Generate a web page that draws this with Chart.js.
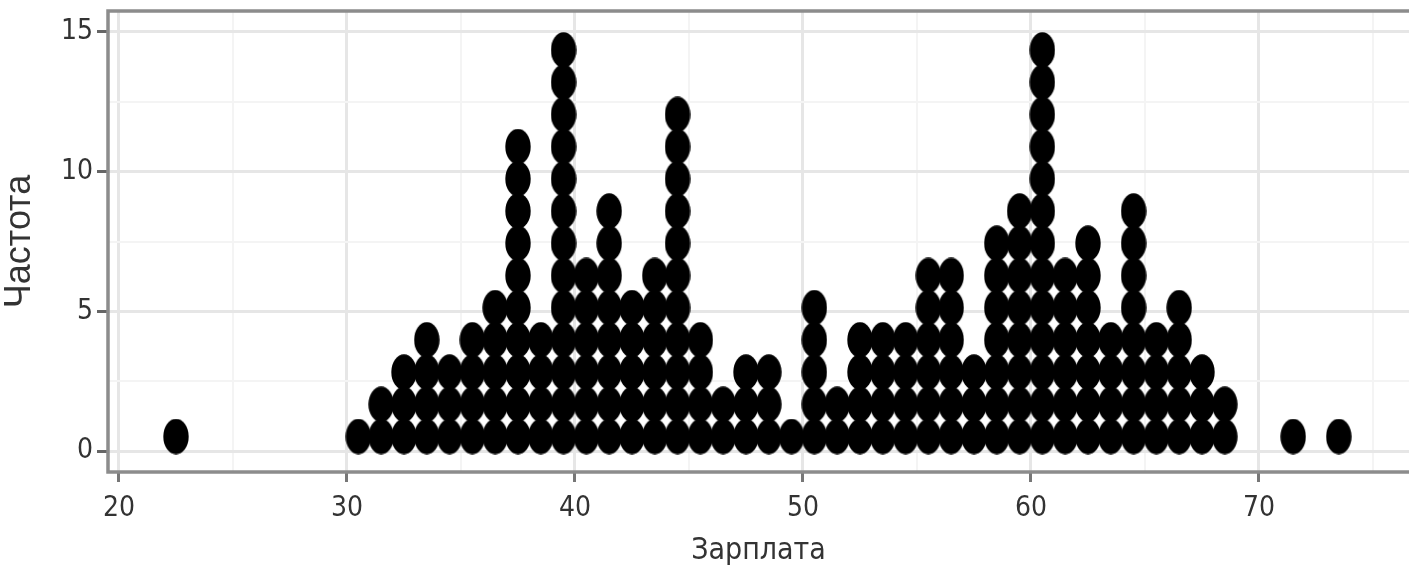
<!DOCTYPE html>
<html>
<head>
<meta charset="utf-8">
<script src="https://cdn.jsdelivr.net/npm/chart.js@4"></script>
<style>
    html, body { margin: 0; padding: 0; background: #fff; }
    #wrap { width: 1409px; height: 571px; }
</style>
</head>
<body>
<div id="wrap"><canvas id="dotplot"></canvas></div>
<script>
// Dot plot data: bin centres (salary) and how many dots are stacked in each
const bins = [22.5, 30.5, 31.5, 32.5, 33.5, 34.5, 35.5, 36.5, 37.5, 38.5, 39.5,
    40.5, 41.5, 42.5, 43.5, 44.5, 45.5, 46.5, 47.5, 48.5, 49.5,
    50.5, 51.5, 52.5, 53.5, 54.5, 55.5, 56.5, 57.5, 58.5, 59.5,
    60.5, 61.5, 62.5, 63.5, 64.5, 65.5, 66.5, 67.5, 68.5, 71.5, 73.5];
const counts = [1, 1, 2, 3, 4, 3, 4, 5, 10, 4, 13,
    6, 8, 5, 6, 11, 4, 2, 3, 3, 1,
    5, 2, 4, 4, 4, 6, 6, 3, 7, 8,
    13, 6, 7, 4, 8, 4, 5, 3, 2, 1, 1];

// Axis ticks (major ones get labels, the others are minor grid lines)
const xTicks = [20, 25, 30, 35, 40, 45, 50, 55, 60, 65, 70, 75];
const yTicks = [0, 2.5, 5, 7.5, 10, 12.5, 15];

// stacking: first dot centre and distance between stacked dots (y units)
const stackBase = 0.52;
const stackStep = 1.153;

// turn the counts into one point per dot
const dots = [];
bins.forEach((b, i) => {
    for (let k = 0; k < counts[i]; k++) {
        dots.push({ x: b, y: stackBase + k * stackStep });
    }
});

// dots are a bit taller than wide in the picture, so use an ellipse image
function makeDot(w, h) {
    const c = document.createElement('canvas');
    c.width = w;
    c.height = h;
    const g = c.getContext('2d');
    g.fillStyle = '#000';
    g.beginPath();
    g.ellipse(w / 2, h / 2, w / 2 - 0.3, h / 2 - 0.3, 0, 0, Math.PI * 2);
    g.fill();
    return c;
}
const dotImg = makeDot(26, 36);

const tickFont = { family: "'Liberation Sans Narrow', 'DejaVu Sans Condensed', 'Liberation Sans', sans-serif", size: 28 };
const textColor = '#333';
const majorGrid = '#e6e6e6';
const minorGrid = '#f4f4f4';

// grey panel frame like theme_bw (right side runs off the picture)
const framePlugin = {
    id: 'frame',
    afterDraw(chart) {
        const a = chart.chartArea;
        const ctx = chart.ctx;
        ctx.save();
        ctx.strokeStyle = '#8c8c8c';
        ctx.lineWidth = 3.5;
        ctx.strokeRect(a.left, a.top, a.right - a.left + 20, a.bottom - a.top);
        ctx.restore();
    }
};

const ctx = document.getElementById('dotplot').getContext('2d');
const chart = new Chart(ctx, {
    type: 'scatter',
    data: {
        datasets: [{
            data: dots,
            pointStyle: dotImg,
            pointRadius: 12,
            pointHoverRadius: 12
        }]
    },
    options: {
        responsive: true,
        maintainAspectRatio: false,
        animation: false,
        layout: { autoPadding: false, padding: { top: 11, left: 0, right: 0, bottom: 0 } },
        plugins: {
            legend: { display: false },
            tooltip: { enabled: false }
        },
        scales: {
            x: {
                type: 'linear',
                min: 19.52,
                max: 76.58,
                afterBuildTicks: s => { s.ticks = xTicks.map(v => ({ value: v })); },
                afterFit: s => {
                    s.height = 99;
                    s.paddingLeft = 0;
                    s.paddingRight = 0;
                },
                border: { display: false },
                grid: {
                    color: c => (c.tick.value % 10 === 0 ? majorGrid : minorGrid),
                    lineWidth: c => (c.tick.value % 10 === 0 ? 3 : 2),
                    tickColor: c => (c.tick.value % 10 === 0 ? '#777' : 'rgba(0,0,0,0)'),
                    tickLength: 10,
                    tickWidth: 3
                },
                ticks: {
                    autoSkip: false,
                    maxRotation: 0,
                    padding: 10,
                    color: textColor,
                    font: tickFont,
                    callback: v => (v % 10 === 0 ? String(v) : '')
                },
                title: {
                    display: true,
                    text: 'Зарплата',
                    color: textColor,
                    font: { family: tickFont.family, size: 30 },
                    padding: { top: 0, bottom: 2 }
                }
            },
            y: {
                type: 'linear',
                min: -0.75,
                max: 15.75,
                afterBuildTicks: s => { s.ticks = yTicks.map(v => ({ value: v })); },
                afterFit: s => {
                    s.width = 108;
                    s.paddingTop = 0;
                    s.paddingBottom = 0;
                },
                border: { display: false },
                grid: {
                    color: c => (c.tick.value % 5 === 0 ? majorGrid : minorGrid),
                    lineWidth: c => (c.tick.value % 5 === 0 ? 3 : 2),
                    tickColor: c => (c.tick.value % 5 === 0 ? '#666' : 'rgba(0,0,0,0)'),
                    tickLength: 11,
                    tickWidth: 3
                },
                ticks: {
                    autoSkip: false,
                    padding: 4,
                    color: textColor,
                    font: tickFont,
                    callback: v => (v % 5 === 0 ? String(v) : '')
                },
                title: {
                    display: true,
                    text: 'Частота',
                    color: textColor,
                    font: { family: "'Liberation Sans', Arial, sans-serif", size: 36, lineHeight: 1 },
                    padding: { top: 2, bottom: 0 }
                }
            }
        }
    },
    plugins: [framePlugin]
});
</script>
</body>
</html>
